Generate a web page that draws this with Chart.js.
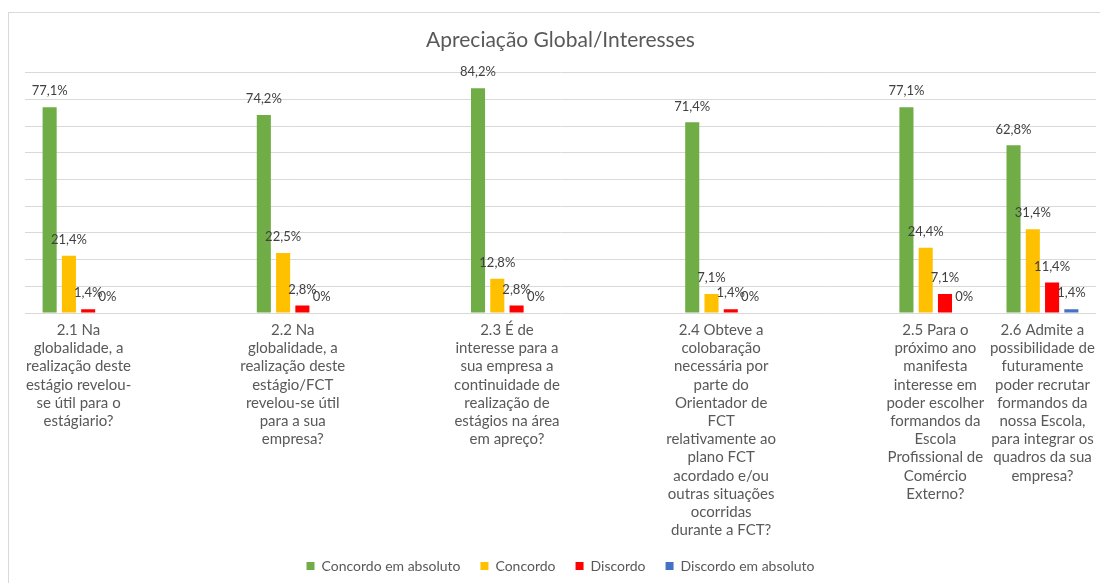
<!DOCTYPE html>
<html>
<head>
<meta charset="utf-8">
<script src="https://cdn.jsdelivr.net/npm/chart.js@4.4.1/dist/chart.umd.min.js"></script>
<style>
  html, body { margin: 0; padding: 0; background: #fff; overflow: hidden; width: 1100px; height: 583px; }
  #frame { position: absolute; left: 8px; top: 12px; border-top: 1px solid #d9d9d9; border-left: 1px solid #d9d9d9; }
  canvas { display: block; }
</style>
</head>
<body>
<div id="frame"><canvas id="c" width="1104" height="580"></canvas></div>
<script>
// ---- data ----
const title = 'Apreciação Global/Interesses';
const categories = [
  ['2.1 Na', 'globalidade, a', 'realização deste', 'estágio revelou-', 'se útil para o', 'estágiario?'],
  ['2.2 Na', 'globalidade, a', 'realização deste', 'estágio/FCT', 'revelou-se útil', 'para a sua', 'empresa?'],
  ['2.3 É de', 'interesse para a', 'sua empresa a', 'continuidade de', 'realização de', 'estágios na área', 'em apreço?'],
  ['2.4 Obteve a', 'colobaração', 'necessária por', 'parte do', 'Orientador de', 'FCT', 'relativamente ao', 'plano FCT', 'acordado e/ou', 'outras situações', 'ocorridas', 'durante a FCT?'],
  ['2.5 Para o', 'próximo ano', 'manifesta', 'interesse em', 'poder escolher', 'formandos da', 'Escola', 'Profissional de', 'Comércio', 'Externo?'],
  ['2.6 Admite a', 'possibilidade de', 'futuramente', 'poder recrutar', 'formandos da', 'nossa Escola,', 'para integrar os', 'quadros da sua', 'empresa?']
];
const seriesNames = ['Concordo em absoluto', 'Concordo', 'Discordo', 'Discordo em absoluto'];
const concordoAbsoluto = [77.1, 74.2, 84.2, 71.4, 77.1, 62.8];
const concordo = [21.4, 22.5, 12.8, 7.1, 24.4, 31.4];
const discordo = [1.4, 2.8, 2.8, 1.4, 7.1, 11.4];
const discordoAbsoluto = [0, 0, 0, 0, 0, 1.4];
const yTicks = [0, 10, 20, 30, 40, 50, 60, 70, 80, 90];

// ---- layout / style ----
const gapAfter = [1, 1, 1, 1, 0, 0]; // empty category slots after each group (as in original layout)
const colors = ['#70AD47', '#FFC000', '#FF0000', '#4472C4'];
const FONT = 'Lato, "Open Sans", sans-serif';

const labels = [];
const idx = [];
categories.forEach((c, i) => {
  idx.push(labels.length);
  labels.push(c);
  for (let k = 0; k < gapAfter[i]; k++) labels.push('');
});
function expand(arr) {
  const out = new Array(labels.length).fill(null);
  arr.forEach((v, i) => { out[idx[i]] = v; });
  return out;
}
const seriesData = [concordoAbsoluto, concordo, discordo, discordoAbsoluto];

const valueLabels = {
  id: 'valueLabels',
  afterDatasetsDraw(chart) {
    const ctx = chart.ctx;
    ctx.save();
    ctx.font = '13px ' + FONT;
    ctx.fillStyle = '#404040';
    ctx.textAlign = 'center';
    ctx.textBaseline = 'middle';
    chart.data.datasets.forEach((ds, di) => {
      const meta = chart.getDatasetMeta(di);
      meta.data.forEach((el, i) => {
        const v = ds.data[i];
        if (v === null || v === undefined) return;
        const txt = String(v).replace('.', ',') + '%';
        ctx.fillText(txt, el.x, el.y - 16);
      });
    });
    ctx.restore();
  }
};

new Chart(document.getElementById('c'), {
  type: 'bar',
  data: {
    labels: labels,
    datasets: seriesNames.map((n, i) => ({
      label: n,
      data: expand(seriesData[i]),
      backgroundColor: colors[i],
      borderWidth: 0,
      categoryPercentage: 0.72,
      barPercentage: 0.73
    }))
  },
  options: {
    responsive: false,
    animation: false,
    events: [],
    layout: { padding: { left: 16, right: 17, top: 0, bottom: 10 } },
    plugins: {
      title: {
        display: true,
        text: title,
        color: '#595959',
        font: { family: FONT, size: 21, weight: 'normal' },
        padding: { top: 14.5, bottom: 20 }
      },
      legend: {
        position: 'bottom',
        labels: {
          boxWidth: 8,
          boxHeight: 8,
          padding: 20,
          color: '#595959',
          font: { family: FONT, size: 14 }
        }
      },
      tooltip: { enabled: false }
    },
    scales: {
      x: {
        afterFit(scale) { scale.height = 226; },
        grid: { display: false, drawTicks: false },
        border: { display: false },
        ticks: {
          autoSkip: false,
          maxRotation: 0,
          minRotation: 0,
          padding: 8,
          color: '#595959',
          font: { family: FONT, size: 15, lineHeight: 1.213 }
        }
      },
      y: {
        min: 0,
        max: 90,
        afterBuildTicks(scale) { scale.ticks = yTicks.map(v => ({ value: v })); },
        grid: { color: '#d9d9d9', drawTicks: false },
        border: { display: false },
        ticks: { display: false }
      }
    }
  },
  plugins: [valueLabels]
});
</script>
</body>
</html>
